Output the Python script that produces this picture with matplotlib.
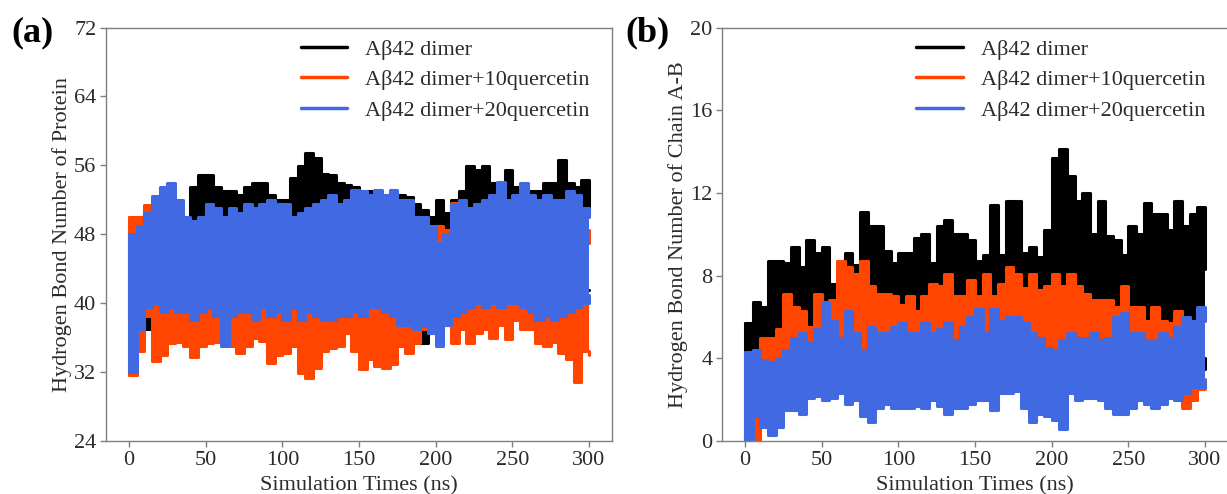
import numpy as np
import matplotlib
matplotlib.use("Agg")
import matplotlib.pyplot as plt

plt.rcParams['font.family'] = ['Liberation Serif', 'DejaVu Serif']

# Start of each 5 ns window of the trajectory (ns)
TIME_NS = np.arange(0, 301, 5)

SERIES_LABELS = ["A\u03b242 dimer", "A\u03b242 dimer+10quercetin", "A\u03b242 dimer+20quercetin"]
SERIES_COLORS = ["#000000", "#FF4500", "#4169E1"]

# ---- (a) Hydrogen bonds of the whole protein: per-window min / max ----
PROT_DIMER_LO = [38, 40, 37, 41, 41, 41.5, 41, 41, 41, 41.5,
                 41, 41, 40.5, 41, 41, 41.5, 41, 41.5, 41, 41,
                 41.5, 41, 41, 41.5, 41, 41, 41, 41.5, 41, 41.5,
                 41, 41, 41.5, 41, 41, 41, 40.5, 39, 35.4, 36.5,
                 39.5, 37.5, 40.5, 41, 41, 41, 41, 41.5, 41, 41,
                 41.5, 41, 41, 41, 41, 41.5, 41, 41, 41, 41.5,
                 41.5]
PROT_DIMER_HI = [49, 50, 50.5, 50, 50, 49.5, 49.5, 50, 53.5, 54.9,
                 54.9, 53.5, 53, 53, 52.5, 53.5, 54, 54, 52.5, 52,
                 52, 54.5, 55.9, 57.4, 56.8, 55, 54.9, 54, 53.7, 53.5,
                 53, 53, 52.8, 52.5, 52.5, 52.5, 52.3, 51.5, 50.8, 50,
                 52, 50.5, 52, 53, 55.9, 55.5, 55.9, 54, 53.5, 55.5,
                 53.5, 53, 53, 53, 54, 54, 56.6, 54, 53.5, 54.3,
                 50.4]
PROT_Q10_LO = [31.7, 34.5, 38.5, 33.3, 34, 35.4, 35.5, 35, 33.7, 35,
               35.4, 35.5, 35.5, 35, 34.2, 35, 36, 35.6, 33.1, 34,
               34.2, 35, 31.9, 31.3, 32.5, 34.5, 34.8, 35, 36.5, 34.4,
               32.3, 33.5, 32.7, 32.5, 32.9, 35, 34.2, 35.4, 37, 37,
               38, 37.5, 35.4, 37, 35.4, 36.5, 37, 36, 37.5, 35.8,
               38, 37, 37, 35.4, 35, 35.5, 34.2, 33.5, 30.9, 34.4,
               34]
PROT_Q10_HI = [50, 50, 51.4, 49, 49, 49, 48.5, 48.5, 48.5, 48.5,
               48.5, 48.5, 48, 48.5, 48.5, 48.5, 48.5, 48.5, 48, 48.5,
               48.5, 48.5, 48, 48.5, 48, 48.5, 48.5, 48, 48.5, 49,
               49, 48.5, 48.5, 48.5, 48.5, 48.5, 48, 48, 48.5, 48.5,
               49, 48.5, 51.6, 49, 49, 49, 48.5, 48.5, 48.5, 48.5,
               48.5, 48.5, 48.5, 48.5, 48.5, 48.5, 50.4, 48.5, 48.5, 48.5,
               47]
PROT_Q20_LO = [32, 37, 39.5, 40, 39, 39.5, 39, 39, 38, 39,
               39.5, 38.5, 35, 38.5, 39, 39, 38, 39.5, 38.5, 39,
               38, 39.5, 38, 39, 38.5, 38, 38, 38.5, 38.5, 39,
               38.5, 39.5, 39.5, 39, 38.5, 37.5, 37.5, 37, 37.5, 36.5,
               35, 37.5, 38.5, 39, 39.5, 40, 39.5, 40, 39.5, 40,
               40, 39.5, 39, 38, 38.5, 38, 38.5, 39, 39.5, 40,
               41]
PROT_Q20_HI = [48, 49, 50.5, 52.4, 53.5, 53.9, 52, 50, 49.5, 50,
               51.5, 51, 50, 51, 50.5, 51.5, 51, 51.5, 52, 51.5,
               51.5, 50, 50.5, 51, 51.5, 52, 52.5, 51.5, 52, 53.1,
               53, 52.5, 53.1, 52.5, 53.1, 52, 52, 50, 50, 49,
               47, 48, 51.5, 52, 51, 51.5, 52, 52.5, 54.1, 52,
               52.5, 53.9, 52.5, 52, 52.5, 52, 52, 53, 52.6, 51,
               50]

# ---- (b) Hydrogen bonds between chain A and chain B: per-window min / max ----
AB_DIMER_LO = [0, 2.5, 3, 3, 3, 3, 3, 3, 3, 3,
               3, 3, 3, 2.6, 3, 3, 3.5, 3.5, 3.5, 3.5,
               3.5, 3.5, 3.5, 3.5, 3.5, 3.5, 3.5, 3.5, 3.5, 3.5,
               3.5, 3.5, 3.5, 3.5, 3.5, 3.5, 3.5, 3.5, 3.5, 3.5,
               3.5, 3.5, 3.5, 3.5, 3.5, 3.5, 3.5, 3.5, 3.5, 3.5,
               3.5, 3.5, 3.5, 3.5, 3.5, 3.5, 3.5, 3.5, 3.5, 3.5,
               4]
AB_DIMER_HI = [5.7, 6.7, 6.5, 8.7, 8.7, 8.6, 9.4, 8.4, 9.7, 9.1,
               9.4, 7.6, 8.1, 9.1, 8.5, 11.1, 10.4, 10.4, 9.2, 8.6,
               9.1, 9.1, 9.8, 10.0, 8.6, 10.4, 10.7, 10.0, 10.0, 9.7,
               8.7, 9.0, 11.4, 9.0, 11.6, 11.6, 9.1, 9.4, 8.9, 10.2,
               13.7, 14.1, 12.8, 11.6, 12.0, 10.0, 11.6, 9.9, 9.7, 9.0,
               10.4, 10.0, 11.5, 11.0, 11.0, 10.2, 11.6, 10.4, 11.0, 11.3,
               8.3]
AB_Q10_LO = [0, 0, 1.5, 2.5, 2.5, 3, 3, 3, 3, 2.3,
             3, 3, 2.6, 3, 3, 3.2, 3.5, 3.5, 3.5, 3.5,
             3.5, 3.5, 3.5, 3.5, 3.5, 3.5, 3.5, 3.5, 3.5, 3.5,
             3.5, 3.5, 3.5, 3.5, 3.5, 3.5, 3.5, 3.5, 3.5, 3.5,
             3.5, 3.5, 3.5, 3.5, 3.5, 3.5, 3.5, 3.5, 2.6, 3.5,
             3.5, 3.5, 3.5, 3.5, 3.5, 3.5, 3.5, 1.6, 2.0, 2.5,
             3]
AB_Q10_HI = [3.5, 4.3, 5.0, 5.0, 5.4, 7.1, 6.5, 6.3, 5.5, 7.1,
             6.2, 6.8, 8.7, 8.4, 8.1, 8.7, 7.5, 7.1, 7.1, 7.0,
             6.6, 7.0, 6.3, 7.0, 7.6, 7.5, 8.1, 7.0, 7.0, 7.8,
             7.0, 8.1, 7.0, 7.6, 8.4, 8.1, 7.4, 8.1, 7.3, 7.5,
             8.1, 7.5, 8.1, 7.5, 7.1, 6.8, 6.8, 6.8, 6.5, 7.5,
             6.5, 6.5, 5.8, 6.5, 5.8, 5.7, 6.3, 5.5, 5.8, 6.3,
             6.0]
AB_Q20_LO = [0, 1.2, 0.7, 0.3, 0.7, 1.5, 1.5, 1.3, 2.1, 2.2,
             2.0, 2.1, 2.3, 1.8, 2.0, 1.2, 0.9, 1.6, 1.8, 1.6,
             1.6, 1.6, 1.7, 1.6, 2.0, 1.7, 1.3, 1.6, 1.6, 1.8,
             2.0, 2.0, 1.5, 2.3, 2.3, 2.4, 1.6, 0.9, 1.3, 1.2,
             1.0, 0.6, 2.3, 2.0, 2.1, 2.1, 2.0, 1.6, 1.3, 1.3,
             1.6, 2.0, 1.8, 1.6, 1.8, 2.1, 2.0, 2.3, 2.6, 2.6,
             2.9]
AB_Q20_HI = [4.3, 4.4, 3.9, 3.8, 4.0, 4.4, 5.0, 5.2, 4.8, 5.4,
             6.7, 5.8, 5.0, 6.3, 5.2, 4.4, 5.5, 5.2, 5.2, 5.5,
             5.7, 5.2, 5.2, 5.7, 5.2, 5.4, 5.7, 4.9, 5.5, 6.0,
             6.4, 5.2, 6.4, 5.8, 6.0, 6.0, 5.7, 5.2, 5.0, 4.5,
             4.4, 4.9, 5.2, 5.0, 5.0, 5.2, 4.9, 5.0, 6.0, 6.2,
             5.2, 5.2, 4.9, 4.9, 5.2, 5.0, 5.5, 6.0, 5.8, 6.5,
             5.8]

PROT_YTICKS = [24, 32, 40, 48, 56, 64, 72]
AB_YTICKS = [0, 4, 8, 12, 16, 20]
XTICKS = [0, 50, 100, 150, 200, 250, 300]

TEXT_COLOR = "#2b2b2b"
SPINE_COLOR = "#7f7f7f"


def draw_trace(ax, lo, hi, color, label, z):
    """Draw a fluctuating trajectory as its per-window range band."""
    ax.fill_between(TIME_NS, lo, hi, step='post', color=color, lw=0, zorder=z)
    style = dict(color=color, lw=2.2, solid_joinstyle='round',
                 solid_capstyle='round', zorder=z)
    ax.plot(TIME_NS, hi, drawstyle='steps-post', label=label, **style)
    ax.plot(TIME_NS, lo, drawstyle='steps-post', **style)
    ax.plot([TIME_NS[0], TIME_NS[0]], [lo[0], hi[0]], **style)


def style_axes(ax, yticks, ylabel):
    ax.set_xlim(-15, 315)
    ax.set_ylim(yticks[0], yticks[-1])
    ax.set_xticks(XTICKS)
    ax.set_yticks(yticks)
    for sp in ax.spines.values():
        sp.set_color(SPINE_COLOR)
        sp.set_linewidth(1.0)
        sp.set_zorder(10)
    ax.tick_params(axis='both', direction='out', length=4, width=1.0,
                   color=SPINE_COLOR, labelcolor=TEXT_COLOR, labelsize=16, pad=3)
    ax.set_xlabel("Simulation Times (ns)", fontsize=16, color=TEXT_COLOR, labelpad=4.5)
    ax.set_ylabel(ylabel, fontsize=16, color=TEXT_COLOR, labelpad=1.5)


fig = plt.figure(figsize=(12.27, 4.94), dpi=100)
ax_a = fig.add_axes([106 / 1227, 53 / 494, 506 / 1227, 413.5 / 494])
ax_b = fig.add_axes([722 / 1227, 53 / 494, 506 / 1227, 413.5 / 494])

panels = [
    (ax_a, [(PROT_DIMER_LO, PROT_DIMER_HI), (PROT_Q10_LO, PROT_Q10_HI), (PROT_Q20_LO, PROT_Q20_HI)],
     PROT_YTICKS, "Hydrogen Bond Number of Protein"),
    (ax_b, [(AB_DIMER_LO, AB_DIMER_HI), (AB_Q10_LO, AB_Q10_HI), (AB_Q20_LO, AB_Q20_HI)],
     AB_YTICKS, "Hydrogen Bond Number of Chain A-B"),
]

for ax, series, yticks, ylabel in panels:
    for k, ((lo, hi), label, color) in enumerate(zip(series, SERIES_LABELS, SERIES_COLORS)):
        draw_trace(ax, lo, hi, color, label, z=2 + k)
    style_axes(ax, yticks, ylabel)
    leg = ax.legend(loc='upper right', bbox_to_anchor=(1 - 7 / 506, 1 + 4 / 413.5),
                    frameon=False, fontsize=16,
                    handlelength=2.1, handletextpad=0.8, labelspacing=0.45,
                    borderaxespad=0.3, labelcolor=TEXT_COLOR)
    leg.set_zorder(20)
    for line in leg.get_lines():
        line.set_linewidth(2.5)

# the right-hand frame of panel (b) falls on the figure's edge
ax_b.spines['right'].set_visible(False)

fig.text(11 / 1227, 1 - 33 / 494, "(a)", fontsize=26, fontweight='bold', va='center', ha='left')
fig.text(625 / 1227, 1 - 33 / 494, "(b)", fontsize=26, fontweight='bold', va='center', ha='left')

fig.savefig("out.png", dpi=100)
